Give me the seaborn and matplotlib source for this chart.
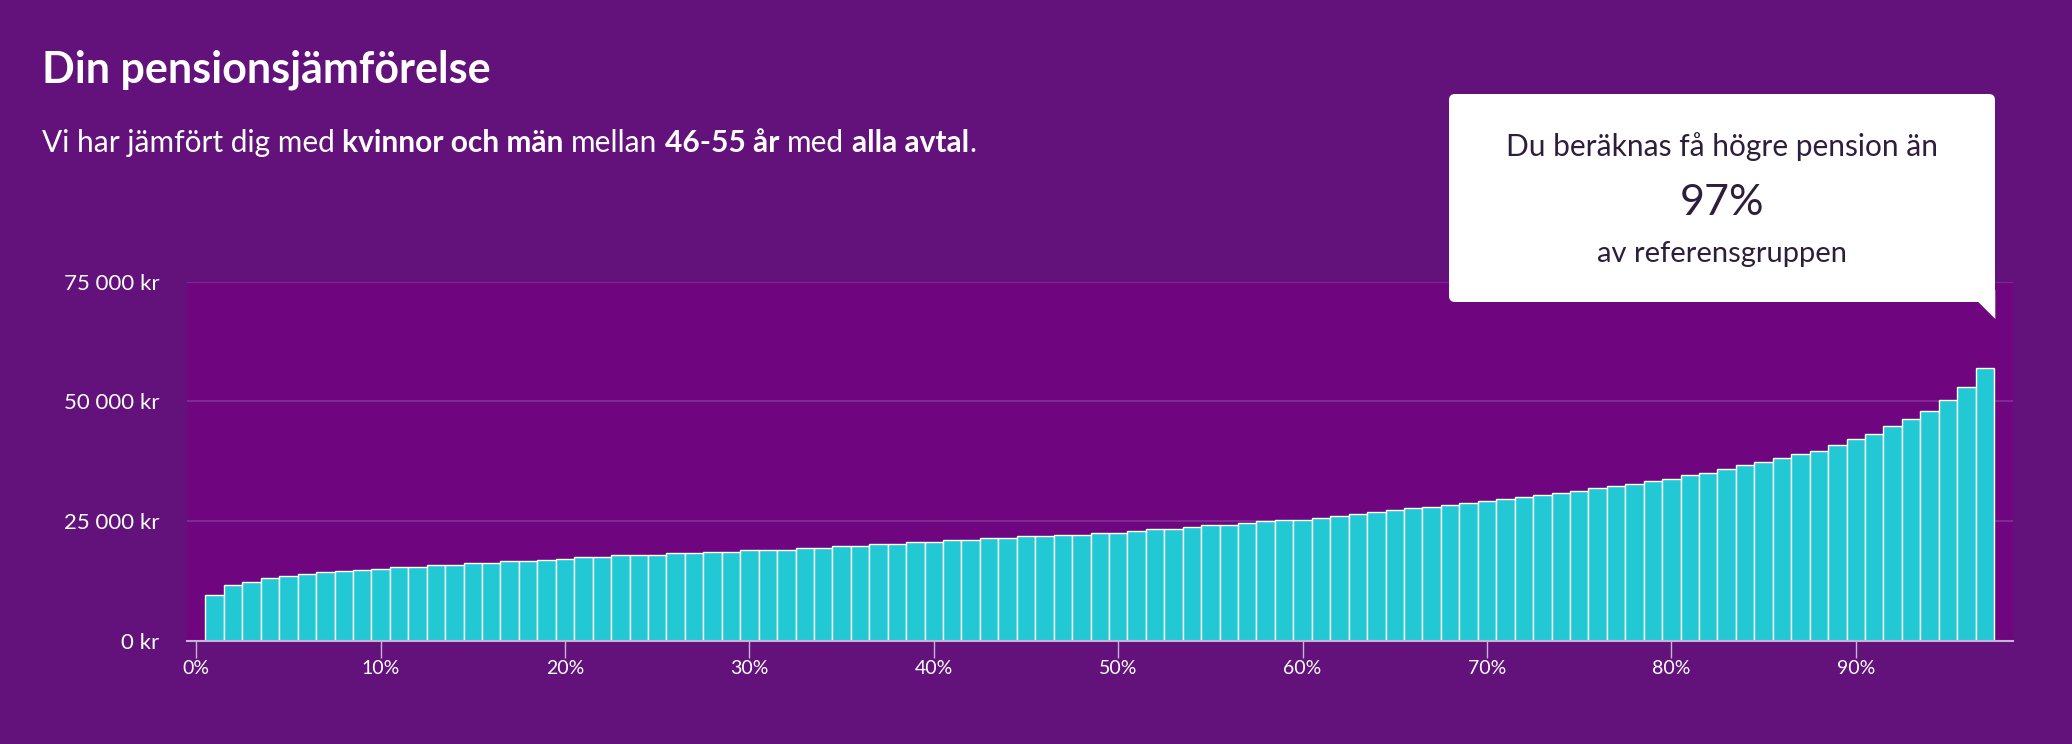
import matplotlib
matplotlib.use("Agg")
import matplotlib.pyplot as plt
import matplotlib.transforms as mtransforms
from matplotlib.patches import FancyBboxPatch, Polygon
import pandas as pd
import seaborn as sns

# percentile (x) and estimated monthly pension (kr) per bar
percentiles = list(range(1, 98))
pension = [
    9700, 11700, 12400, 13100, 13600, 14000, 14400, 14700, 14750, 15100,
    15500, 15500, 15900, 15900, 16300, 16300, 16700, 16700, 17000, 17050,
    17450, 17450, 17850, 17850, 17850, 18300, 18300, 18650, 18650, 19000,
    19000, 19000, 19400, 19400, 19800, 19800, 20250, 20250, 20650, 20650,
    21000, 21000, 21400, 21400, 21850, 21850, 22200, 22200, 22550, 22550,
    23000, 23350, 23350, 23800, 24200, 24200, 24600, 25000, 25300, 25300,
    25700, 26100, 26550, 26900, 27350, 27700, 28000, 28450, 28850, 29300,
    29600, 30050, 30450, 30800, 31250, 31900, 32350, 32750, 33500, 33900,
    34600, 35050, 35800, 36650, 37400, 38200, 39000, 39700, 40950, 42100,
    43300, 44850, 46400, 48000, 50300, 53000, 57000,
]
x_ticks = [0, 10, 20, 30, 40, 50, 60, 70, 80, 90]
x_labels = [f"{t}%" for t in x_ticks]
y_ticks = [0, 25000, 50000, 75000]
y_labels = ["0 kr", "25 000 kr", "50 000 kr", "75 000 kr"]

title = "Din pensionsjämförelse"
subtitle = [("Vi har jämfört dig med", "normal"), ("kvinnor och män", "bold"),
            ("mellan", "normal"), ("46-55 år", "bold"), ("med", "normal"),
            ("alla avtal", "bold"), (".", "normal")]
callout = ["Du beräknas få högre pension än", "97%", "av referensgruppen"]

W, H = 2072, 744
BG = "#62127a"
PLOT_BG = "#6f067f"
BAR = "#22c9d4"
GRID = "#7f2a92"
AXIS = "#c6b4d4"
DARK = "#2e1d3c"

sns.set_theme(style="white")
plt.rcParams['font.family'] = ['Lato', 'DejaVu Sans']

fig = plt.figure(figsize=(W / 100, H / 100), dpi=100, facecolor=BG)
ax = fig.add_axes([187 / W, 1 - 641 / H, (2012.5 - 187) / W, (641 - 281.7) / H])
ax.set_facecolor(PLOT_BG)

df = pd.DataFrame({"pct": percentiles, "pension": pension})
sns.barplot(data=df, x="pct", y="pension", native_scale=True, width=1,
            color=BAR, saturation=1, edgecolor="white", linewidth=1.0,
            ax=ax, zorder=3)

ax.set_xlim(-0.5, 98.5)
ax.set_ylim(0, 75000)
ax.set_xticks(x_ticks)
ax.set_xticklabels(x_labels)
ax.set_yticks(y_ticks)
ax.set_yticklabels(y_labels)
ax.set_xlabel("")
ax.set_ylabel("")
ax.set_axisbelow(True)
ax.grid(axis="y", color=GRID, linewidth=1.5)
ax.grid(axis="x", visible=False)
for s in ["left", "top", "right"]:
    ax.spines[s].set_visible(False)
ax.spines["bottom"].set_color(AXIS)
ax.spines["bottom"].set_linewidth(1.5)
ax.spines["bottom"].set_zorder(4)
ax.tick_params(axis="x", length=12, width=1, color=AXIS, labelcolor="white",
               labelsize=14, pad=2, bottom=True)
ax.tick_params(axis="y", length=0, labelcolor="white", labelsize=16, pad=20)

# helpers: pixel coords (top-left origin) -> figure
px_tr = mtransforms.Affine2D().scale(1 / W, -1 / H).translate(0, 1) + fig.transFigure


def fx(px):
    return px / W


def fy(py):
    return 1 - py / H


fig.text(fx(41.6), fy(82.7), title, fontsize=31, weight="bold", color="white",
         va="baseline", ha="left")

# subtitle with bold parts
renderer = fig.canvas.get_renderer()
t1 = fig.text(0, 0, "a a", fontsize=21.5)
t2 = fig.text(0, 0, "aa", fontsize=21.5)
space = t1.get_window_extent(renderer).width - t2.get_window_extent(renderer).width
t1.remove()
t2.remove()
x = 41.6
for i, (s, w) in enumerate(subtitle):
    if i > 0 and s != ".":
        x += space
    t = fig.text(fx(x), fy(151.7), s, fontsize=21.5, weight=w, color="white",
                 va="baseline", ha="left")
    x += t.get_window_extent(renderer).width

# callout box
box = FancyBboxPatch((1449, 94), 546, 208, boxstyle="round,pad=0,rounding_size=6",
                     transform=px_tr, facecolor="white", edgecolor="none", zorder=10)
fig.add_artist(box)
tip = Polygon([(1978, 301.7), (1985, 290), (1995.3, 290), (1995.3, 319)], closed=True,
              transform=px_tr, facecolor="white", edgecolor="none", zorder=10)
fig.add_artist(tip)
fig.text(fx(1722), fy(156), callout[0], fontsize=21.5, color=DARK, ha="center",
         va="baseline", zorder=11)
fig.text(fx(1722), fy(215), callout[1], fontsize=31, color=DARK, ha="center",
         va="baseline", zorder=11)
fig.text(fx(1722), fy(262), callout[2], fontsize=21, color=DARK, ha="center",
         va="baseline", zorder=11)

fig.savefig("out.png", dpi=100, facecolor=BG)
